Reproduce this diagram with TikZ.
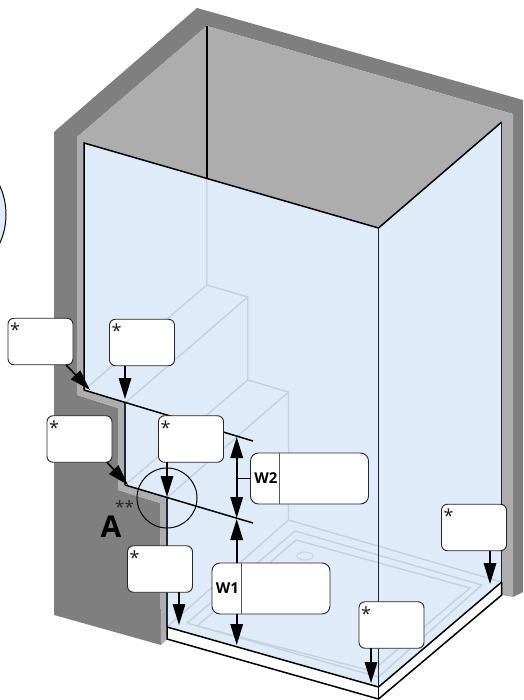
\documentclass[tikz,border=0pt]{standalone}
\usepackage{fontspec}
\setmainfont{Open Sans}
\usetikzlibrary{arrows.meta}
\definecolor{walldark}{HTML}{7F7F7F}
\definecolor{walllight}{HTML}{ADADAD}
\definecolor{glassblue}{HTML}{DFEBF8}
\definecolor{ghostgrey}{HTML}{C6D1DC}
\definecolor{edgenavy}{HTML}{1B2836}
\tikzset{
  notebox/.style={draw=black!85,fill=white,line width=0.9pt,rounded corners=6pt,minimum width=65pt,minimum height=46.5pt,inner sep=0pt,outer sep=0pt},
  widthbox/.style={notebox,minimum width=118pt,minimum height=51pt,rounded corners=8pt},
  starmark/.style={font=\fontsize{18}{18}\selectfont,text=black!90,inner sep=0pt,anchor=center,xshift=7pt,yshift=-11.5pt},
  widthlabel/.style={font=\fontsize{15}{15}\selectfont\bfseries,inner sep=0pt},
  divider/.style={draw=black!65,line width=0.9pt},
  ghost/.style={draw=ghostgrey,line width=1.4pt},
  edge/.style={draw=black,line width=1.5pt},
  pointer/.style={draw=black,line width=1.6pt,-{Triangle[length=21pt,width=12.5pt]}}
}
\begin{document}
\begin{tikzpicture}[x=1pt,y=-1pt]
\useasboundingbox (0,0) rectangle (523,700);

% -- walls
\fill[walldark] (54,132) -- (197,8) -- (523,100) -- (523,592) -- (513,597) -- (513,114) -- (206.7,26) -- (77,137) -- (77,395) -- (118,408) -- (118,490) -- (160,503) -- (161,645) -- (54,615) -- cycle;
\fill[walllight] (77,137) -- (206.7,26) -- (513,114) -- (513,597) -- (502,595) -- (167,639) -- (161,645) -- (160,503) -- (118,490) -- (118,408) -- (77,395) -- cycle;

% -- tray edge and glass
\fill[white] (167,627) -- (378.5,687) -- (501.7,582) -- (501.7,595) -- (378.5,699) -- (167,639) -- cycle;
\fill[glassblue] (84,143) -- (378.5,228) -- (501.7,122) -- (501.7,582) -- (378.5,687) -- (167,627) -- (167,497.5) -- (125,485) -- (125,403) -- (84,390) -- cycle;

% -- stairs behind the glass
\draw[ghost] (206.7,178) -- (206.7,285) -- (247.7,297) -- (247.7,380) -- (288.5,392) -- (288.5,520);
\draw[ghost] (206.7,285) -- (84,390);
\draw[ghost] (247.7,297) -- (125,403);
\draw[ghost] (247.7,380) -- (125,485);
\draw[ghost] (288.5,392) -- (167,497.5);

% -- floor and shower tray
\draw[ghost] (167,627) -- (288.5,520) -- (501.7,582);
\draw[ghost] (295,531) -- (481.7,585) -- (378.5,677) -- (187,623) -- cycle;
\draw[ghost] (296,540) -- (470,588) -- (372,671) -- (197,626) -- cycle;
\draw[ghost,line width=1pt] (305,556) ellipse (8 and 4);

% -- glass edges
\draw[edge,line width=1.7pt] (206.7,26) -- (206.7,178);
\draw[edge] (84,390) -- (84,143) -- (378.5,228) -- (501.7,122);
\draw[edge,draw=edgenavy] (378.5,228) -- (378.5,687);
\draw[edge,draw=edgenavy] (501.7,122) -- (501.7,582);
\draw[edge] (84,390) -- (253,441);
\draw[edge] (125,485) -- (253,523);
\draw[edge,draw=edgenavy] (125,403) -- (125,485);
\draw[edge,draw=edgenavy] (167,497.5) -- (167,627);
\draw[edge] (167,627) -- (378.5,687) -- (501.7,582);
\draw[edge] (167,627) -- (167,639) -- (378.5,699) -- (501.7,595) -- (501.7,582);
\draw[edge] (378.5,687) -- (378.5,699);

% -- detail circles
\node[circle,draw=black,line width=1pt,minimum size=60pt,inner sep=0pt] (detailA) at (167,498) {};
\node[circle,draw=black,fill=glassblue,line width=1pt,minimum size=138pt,inner sep=0pt] (detailB) at (-63,214.5) {};
\node[inner sep=0pt,font=\fontsize{30}{30}\selectfont\bfseries] (letterA) at (111,527) {A};
\node[inner sep=0pt,font=\fontsize{17}{17}\selectfont,text=black!85] (starsA) at (124.5,507.5) {**};

% -- boxes
\node[notebox] (boxa) at (40.5,341.5) {};
\node[notebox] (boxb) at (142,342.5) {};
\node[notebox] (boxc) at (79.5,439) {};
\node[notebox] (boxd) at (191,439) {};
\node[notebox] (boxe) at (160,569) {};
\node[notebox] (boxf) at (391.5,625) {};
\node[notebox] (boxg) at (474,527.5) {};
\node[widthbox] (boxwtwo) at (309.5,478.5) {};
\node[widthbox] (boxwone) at (271,588.5) {};

\node[starmark] (stara) at (boxa.north west) {*};
\node[starmark] (starb) at (boxb.north west) {*};
\node[starmark] (starc) at (boxc.north west) {*};
\node[starmark] (stard) at (boxd.north west) {*};
\node[starmark] (stare) at (boxe.north west) {*};
\node[starmark] (starf) at (boxf.north west) {*};
\node[starmark] (starg) at (boxg.north west) {*};

\draw[divider] ([xshift=29pt]boxwtwo.north west) -- ([xshift=29pt]boxwtwo.south west);
\draw[divider] ([xshift=29pt]boxwone.north west) -- ([xshift=29pt]boxwone.south west);
\node[widthlabel] (labelwtwo) at ([xshift=15.5pt]boxwtwo.west) {W2};
\node[widthlabel] (labelwone) at ([xshift=15.5pt]boxwone.west) {W1};

% -- draw arrows
\coordinate (tipa) at (90,390);
\coordinate (tipb) at (125,399);
\coordinate (tipc) at (128,485);
\coordinate (tipd) at (167,497);
\coordinate (tipe) at (179,625);
\coordinate (tipf) at (371,683);
\coordinate (tipg) at (490,584);
\coordinate (tailc) at (107,462.3);
\coordinate (taila) at (66,364.8);
\coordinate (wtwotop) at (236.7,437);
\coordinate (wtwobot) at (236.7,518);
\coordinate (wonetop) at (236.7,519);
\coordinate (wonebot) at (236.7,645);

\draw[pointer] (taila) -- (tipa);
\draw[pointer] (boxb.south -| tipb) -- (tipb);
\draw[pointer] (tailc) -- (tipc);
\draw[pointer] (boxd.south -| tipd) -- (tipd);
\draw[pointer] (boxe.south -| tipe) -- (tipe);
\draw[pointer] (boxf.south -| tipf) -- (tipf);
\draw[pointer] (boxg.south -| tipg) -- (tipg);

\draw[draw=black,line width=1.6pt] (boxwtwo.west) -- (boxwtwo.west -| wtwotop);
\draw[pointer] (boxwtwo.west -| wtwotop) -- (wtwotop);
\draw[pointer] (boxwtwo.west -| wtwobot) -- (wtwobot);
\draw[pointer] (boxwone.north -| wonetop) -- (wonetop);
\draw[pointer] (boxwone.south -| wonebot) -- (wonebot);
\end{tikzpicture}
\end{document}
